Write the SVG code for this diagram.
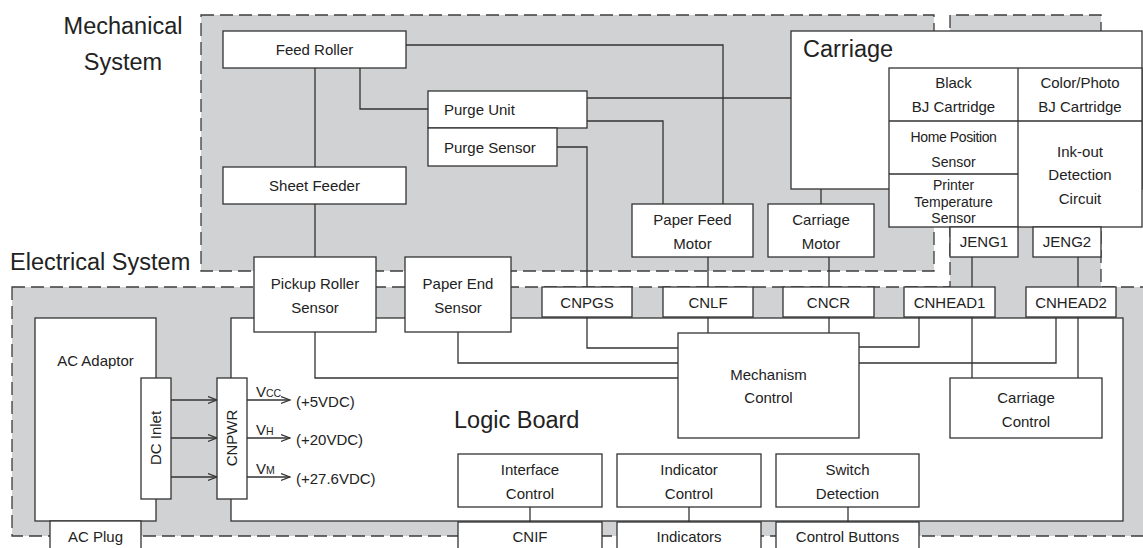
<svg xmlns="http://www.w3.org/2000/svg" width="1143" height="548" viewBox="0 0 1143 548">
<defs>
<marker id="arr" markerUnits="userSpaceOnUse" markerWidth="12" markerHeight="10" refX="9" refY="4" orient="auto">
<path d="M0,0.5 L9,4 L0,7.5" fill="none" stroke="#333" stroke-width="1.2"/>
</marker>
</defs>
<style>
.reg{fill:#d1d2d4;stroke:#3c3c3c;stroke-width:1.3;stroke-dasharray:13 6}
.box{fill:#fff;stroke:#333;stroke-width:1.3}
.ln{fill:none;stroke:#333;stroke-width:1.3}
.ar{fill:none;stroke:#333;stroke-width:1.3;marker-end:url(#arr)}
text{font-family:"Liberation Sans",Arial,Helvetica,sans-serif;fill:#222}
.t{font-size:15px;text-anchor:middle}
.s{font-size:14px;text-anchor:middle}
.l{font-size:15px}
.big{font-size:23.5px}
.sub{font-size:10.5px}
</style>

<g id="regions">
<path class="reg" d="M201,15 H934 V271 H201 Z"/>
<path class="reg" d="M12,287 H950 V15 H1101 V287 H1160 V536 H12 Z"/>
<text class="big" x="123" y="34" text-anchor="middle">Mechanical</text>
<text class="big" x="123" y="70" text-anchor="middle">System</text>
<text class="big" x="10" y="270">Electrical System</text>
</g>

<g id="logic-board">
<rect class="box" x="231" y="318" width="892" height="203"/>
<text class="big" x="454" y="428">Logic Board</text>
</g>

<g id="ac-adaptor">
<rect class="box" x="35" y="318" width="121" height="203"/>
<text class="t" x="95.5" y="366">AC Adaptor</text>
</g>

<g id="connectors">
<path class="ln" d="M315,68 V167"/>
<path class="ln" d="M315,204 V257"/>
<path class="ln" d="M406,45 H723 V204"/>
<path class="ln" d="M360,68 V109 H428"/>
<path class="ln" d="M587,98 H791"/>
<path class="ln" d="M587,121 H663 V204"/>
<path class="ln" d="M557,147 H587 V287"/>
<path class="ln" d="M821,189 V204"/>
<path class="ln" d="M708,257 V287"/>
<path class="ln" d="M829,257 V287"/>
<path class="ln" d="M972,257 V287"/>
<path class="ln" d="M1078,257 V287"/>
<path class="ln" d="M587,317 V348 H678"/>
<path class="ln" d="M458,332 V363 H678"/>
<path class="ln" d="M315,332 V378 H678"/>
<path class="ln" d="M708,317 V333"/>
<path class="ln" d="M829,317 V333"/>
<path class="ln" d="M919,317 V347 H859"/>
<path class="ln" d="M1056,317 V363 H859"/>
<path class="ln" d="M972,317 V378"/>
<path class="ln" d="M1078,317 V378"/>
<path class="ln" d="M530,507 V522"/>
<path class="ln" d="M689,507 V522"/>
<path class="ln" d="M848,507 V522"/>
<path class="ar" d="M171,400 H217"/>
<path class="ar" d="M171,438 H217"/>
<path class="ar" d="M171,477 H217"/>
<path class="ar" d="M247,400 H290"/>
<path class="ar" d="M247,438 H290"/>
<path class="ar" d="M247,477 H290"/>
</g>

<g id="voltages">
<text class="l" x="256" y="397">V<tspan class="sub">CC</tspan></text>
<text class="l" x="296" y="407">(+5VDC)</text>
<text class="l" x="256" y="435">V<tspan class="sub">H</tspan></text>
<text class="l" x="296" y="445">(+20VDC)</text>
<text class="l" x="256" y="474">V<tspan class="sub">M</tspan></text>
<text class="l" x="296" y="484">(+27.6VDC)</text>
</g>

<g id="feed-roller">
<rect class="box" x="223" y="31" width="183" height="37"/>
<text class="t" x="314.5" y="55">Feed Roller</text>
</g>
<g id="sheet-feeder">
<rect class="box" x="223" y="167" width="183" height="37"/>
<text class="t" x="314.5" y="191">Sheet Feeder</text>
</g>
<g id="purge-unit">
<rect class="box" x="428" y="91" width="159" height="37"/>
<text class="l" x="444" y="115">Purge Unit</text>
</g>
<g id="purge-sensor">
<rect class="box" x="428" y="128" width="129" height="38"/>
<text class="l" x="444" y="152.5">Purge Sensor</text>
</g>
<g id="paper-feed-motor">
<rect class="box" x="632" y="204" width="121" height="53"/>
<text class="t" x="692.5" y="224.5">Paper Feed</text>
<text class="t" x="692.5" y="248.5">Motor</text>
</g>
<g id="carriage-motor">
<rect class="box" x="768" y="204" width="106" height="53"/>
<text class="t" x="821" y="224.5">Carriage</text>
<text class="t" x="821" y="248.5">Motor</text>
</g>

<g id="carriage">
<rect class="box" x="791" y="31" width="351" height="158"/>
<text class="big" x="803" y="57">Carriage</text>
<rect class="box" x="889" y="68" width="253" height="159"/>
<path class="ln" d="M1018,68 V227 M889,121 H1142 M889,174 H1018"/>
<text class="t" x="953.5" y="88">Black</text>
<text class="t" x="953.5" y="112">BJ Cartridge</text>
<text class="t" x="1080" y="88">Color/Photo</text>
<text class="t" x="1080" y="112">BJ Cartridge</text>
<text class="s" x="953.5" y="142" letter-spacing="-0.4">Home Position</text>
<text class="s" x="953.5" y="167">Sensor</text>
<text class="s" x="953.5" y="190">Printer</text>
<text class="s" x="953.5" y="207">Temperature</text>
<text class="s" x="953.5" y="223">Sensor</text>
<text class="t" x="1080" y="157">Ink-out</text>
<text class="t" x="1080" y="180">Detection</text>
<text class="t" x="1080" y="204">Circuit</text>
</g>

<g id="jeng1">
<rect class="box" x="950" y="227" width="68" height="30"/>
<text class="t" x="984" y="247">JENG1</text>
</g>
<g id="jeng2">
<rect class="box" x="1033" y="227" width="68" height="30"/>
<text class="t" x="1067" y="247">JENG2</text>
</g>

<g id="pickup-roller-sensor">
<rect class="box" x="254" y="257" width="122" height="75"/>
<text class="t" x="315" y="288.5">Pickup Roller</text>
<text class="t" x="315" y="312.5">Sensor</text>
</g>
<g id="paper-end-sensor">
<rect class="box" x="405" y="257" width="106" height="75"/>
<text class="t" x="458" y="288.5">Paper End</text>
<text class="t" x="458" y="312.5">Sensor</text>
</g>
<g id="cnpgs">
<rect class="box" x="542" y="287" width="90" height="30"/>
<text class="t" x="587" y="307.5">CNPGS</text>
</g>
<g id="cnlf">
<rect class="box" x="663" y="287" width="90" height="30"/>
<text class="t" x="708" y="307.5">CNLF</text>
</g>
<g id="cncr">
<rect class="box" x="783" y="287" width="91" height="30"/>
<text class="t" x="828.5" y="307.5">CNCR</text>
</g>
<g id="cnhead1">
<rect class="box" x="904" y="287" width="91" height="30"/>
<text class="t" x="949.5" y="307.5">CNHEAD1</text>
</g>
<g id="cnhead2">
<rect class="box" x="1026" y="287" width="90" height="30"/>
<text class="t" x="1071" y="307.5">CNHEAD2</text>
</g>

<g id="mechanism-control">
<rect class="box" x="678" y="333" width="181" height="105"/>
<text class="t" x="768.5" y="380">Mechanism</text>
<text class="t" x="768.5" y="403">Control</text>
</g>
<g id="carriage-control">
<rect class="box" x="950" y="378" width="152" height="60"/>
<text class="t" x="1026" y="403">Carriage</text>
<text class="t" x="1026" y="427">Control</text>
</g>
<g id="interface-control">
<rect class="box" x="458" y="454" width="144" height="53"/>
<text class="t" x="530" y="475">Interface</text>
<text class="t" x="530" y="498.5">Control</text>
</g>
<g id="indicator-control">
<rect class="box" x="617" y="454" width="144" height="53"/>
<text class="t" x="689" y="475">Indicator</text>
<text class="t" x="689" y="498.5">Control</text>
</g>
<g id="switch-detection">
<rect class="box" x="776" y="454" width="143" height="53"/>
<text class="t" x="847.5" y="475">Switch</text>
<text class="t" x="847.5" y="498.5">Detection</text>
</g>
<g id="cnif">
<rect class="box" x="458" y="522" width="144" height="40"/>
<text class="t" x="530" y="542">CNIF</text>
</g>
<g id="indicators">
<rect class="box" x="617" y="522" width="144" height="40"/>
<text class="t" x="689" y="542">Indicators</text>
</g>
<g id="control-buttons">
<rect class="box" x="776" y="522" width="143" height="40"/>
<text class="t" x="847.5" y="542">Control Buttons</text>
</g>

<g id="dc-inlet">
<rect class="box" x="141" y="378" width="30" height="121"/>
<text class="t" x="161.3" y="438" transform="rotate(-90 161.3 438)">DC Inlet</text>
</g>
<g id="cnpwr">
<rect class="box" x="217" y="378" width="30" height="121"/>
<text class="t" x="237.3" y="438" transform="rotate(-90 237.3 438)">CNPWR</text>
</g>
<g id="ac-plug">
<rect class="box" x="50" y="521" width="91" height="40"/>
<text class="t" x="95.5" y="542">AC Plug</text>
</g>
</svg>
